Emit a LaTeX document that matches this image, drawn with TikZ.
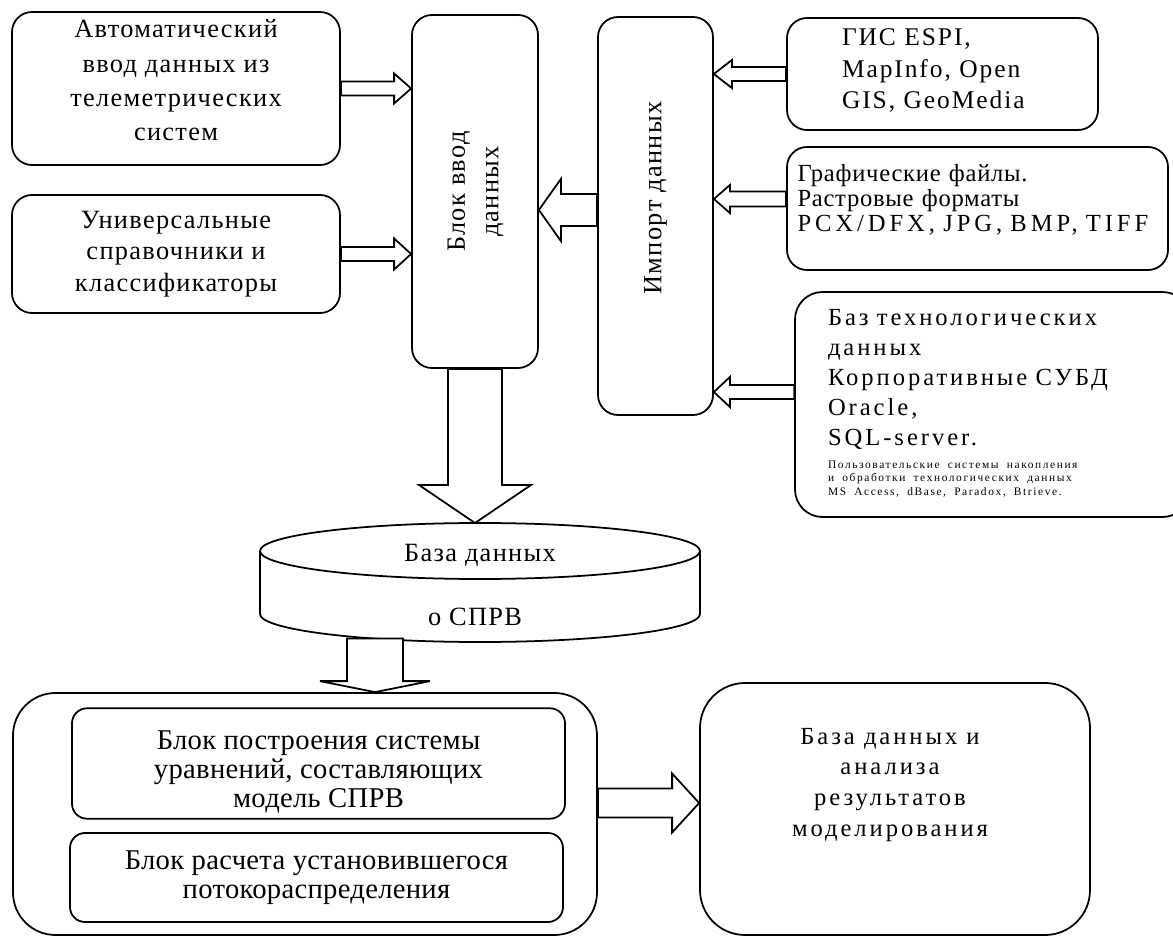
\documentclass[tikz,border=0pt]{standalone}
\usepackage{fontspec}
\setmainfont{Liberation Serif}
\usetikzlibrary{calc,positioning}
\tikzstyle{roundbox} = [rectangle, rounded corners=0.4cm, draw=black, line width=1pt, text centered, font=\fontsize{15}{19}\selectfont\addfontfeature{LetterSpace=5}]
\tikzstyle{bigbox} = [rectangle, rounded corners=0.85cm, draw=black, line width=1pt]
\tikzstyle{innerbox} = [rectangle, rounded corners=0.3cm, draw=black, line width=1pt, text centered, font=\fontsize{16.3}{16.5}\selectfont\addfontfeature{LetterSpace=1}]
\tikzstyle{fat} = [draw=black, line width=1pt, fill=white, line join=miter]
% hollow block arrow: from, to, shaft half width, head half width, head length
\newcommand{\fatarrow}[5]{%
  \path ($(#2)!#5!(#1)$) coordinate (h);
  \draw[fat] ($(#1)!#3!90:(#2)$) -- ($(h)!#3!90:(#2)$) -- ($(h)!#4!90:(#2)$) -- (#2)
    -- ($(h)!#4!-90:(#2)$) -- ($(h)!#3!-90:(#2)$) -- ($(#1)!#3!-90:(#2)$) -- cycle;
}

\begin{document}
\begin{tikzpicture}
    \useasboundingbox (0,0) rectangle (23.46,18.72);
    % left inputs
    \node (auto) [roundbox, minimum width=6.56cm, minimum height=3.06cm, align=center, font=\fontsize{15}{19.5}\selectfont\addfontfeature{LetterSpace=5}] at (3.52,16.95) {Автоматический\\ввод данных из\\телеметрических\\систем\\[-10pt]\mbox{}};
    \node (sprav) [roundbox, minimum width=6.56cm, minimum height=2.36cm, align=center, font=\fontsize{15}{18}\selectfont\addfontfeature{LetterSpace=5}] at (3.52,13.64) {Универсальные\\справочники и\\классификаторы};
    \node (blok) [roundbox, minimum width=2.52cm, minimum height=7.06cm] at (9.50,14.89) {\rotatebox{90}{\begin{tabular}{c}Блок ввод\\данных\end{tabular}}};
    \node (import) [roundbox, minimum width=2.30cm, minimum height=7.96cm] at (13.11,14.40) {\rotatebox{90}{\hspace*{0.72cm}Импорт данных}};
    % sources on the right
    \node (gis) [roundbox, align=left, text width=4.02cm, inner xsep=1.1cm, minimum height=2.24cm, font=\fontsize{14.5}{18}\selectfont\addfontfeature{LetterSpace=7.5}] at (18.85,17.24) {ГИС ESPI,\\MapInfo, Open\\GIS, GeoMedia\\[-12pt]\mbox{}};
    \node (graf) [roundbox, align=left, text width=7.2cm, inner xsep=0.21cm, minimum height=2.46cm, font=\fontsize{14}{14}\selectfont\addfontfeature{LetterSpace=3}] at (19.55,14.55) {Графические файлы.\\Растровые форматы\\{\addfontfeature{LetterSpace=16}PCX/DFX, JPG, BMP, TIFF}\\[-2pt]\mbox{}};
    \node (baz) [roundbox, rounded corners=0.55cm, align=left, text width=6.58cm, inner xsep=0.66cm, minimum height=4.5cm, font=\fontsize{14}{17}\selectfont\addfontfeature{LetterSpace=12}] at (19.85,10.63) {Баз технологических\\данных\\Корпоративные СУБД\\Oracle,\\SQL-server.\\[-4pt]{\fontsize{6.5}{7.7}\selectfont\addfontfeature{LetterSpace=14}\begin{tabular}[t]{@{}l@{}}Пользовательские системы накопления\\и обработки технологических данных\\MS Access, dBase, Paradox, Btrieve.\end{tabular}}};
    % database cylinder
    \draw[line width=1pt] (5.20,7.70) -- (5.20,6.44) arc[start angle=180, end angle=360, x radius=4.4cm, y radius=0.56cm] -- (14.00,7.70);
    \draw[line width=1pt] (9.60,7.70) ellipse [x radius=4.4cm, y radius=0.56cm];
    \coordinate (dbtop) at (9.60,8.26);
    \coordinate (dbout) at (7.50,5.95);
    \node (dbname) [font=\fontsize{15}{18}\selectfont\addfontfeature{LetterSpace=5}] at (9.60,7.62) {База данных};
    \node (dbname2) [font=\fontsize{15}{18}\selectfont\addfontfeature{LetterSpace=5}] at (9.50,6.38) {о СПРВ};
    % model block
    \node (model) [bigbox, minimum width=11.68cm, minimum height=4.84cm] at (6.10,2.44) {};
    \node (eqs) [innerbox, minimum width=9.86cm, minimum height=2.06cm, align=center] at (6.37,3.45) {\rule{0pt}{20pt}Блок построения системы\\уравнений, составляющих\\модель СПРВ};
    \node (flow) [innerbox, minimum width=9.86cm, minimum height=1.78cm, align=center] at (6.33,1.17) {Блок расчета установившегося\\потокораспределения};
    \node (result) [bigbox, rounded corners=0.9cm, minimum width=7.8cm, minimum height=5.04cm] at (17.90,2.54) {};
    \node (restext) [font=\fontsize{14}{17.6}\selectfont\addfontfeature{LetterSpace=12}, align=center] at (17.80,3.02) {База данных и\\анализа\\результатов\\моделирования};
    % arrows
    \fatarrow{auto.east}{blok.west |- auto.east}{0.14cm}{0.30cm}{0.34cm}
    \fatarrow{sprav.east}{blok.west |- sprav.east}{0.14cm}{0.31cm}{0.34cm}
    \coordinate (imp) at ([yshift=0.12cm]import.west);
    \fatarrow{imp}{blok.east |- imp}{0.32cm}{0.62cm}{0.44cm}
    \fatarrow{gis.west}{import.east |- gis.west}{0.14cm}{0.28cm}{0.36cm}
    \coordinate (gr) at ([yshift=0.19cm]graf.west);
    \fatarrow{gr}{import.east |- gr}{0.15cm}{0.28cm}{0.32cm}
    \coordinate (bz) at ([yshift=0.25cm]baz.west);
    \fatarrow{bz}{import.east |- bz}{0.14cm}{0.30cm}{0.32cm}
    \fatarrow{blok.south}{blok.south |- dbtop}{0.54cm}{1.12cm}{0.76cm}
    \fatarrow{dbout}{dbout |- model.north}{0.56cm}{1.10cm}{0.22cm}
    \coordinate (mr) at ([yshift=0.22cm]model.east);
    \fatarrow{mr}{result.west |- mr}{0.29cm}{0.59cm}{0.54cm}
\end{tikzpicture}
\end{document}
